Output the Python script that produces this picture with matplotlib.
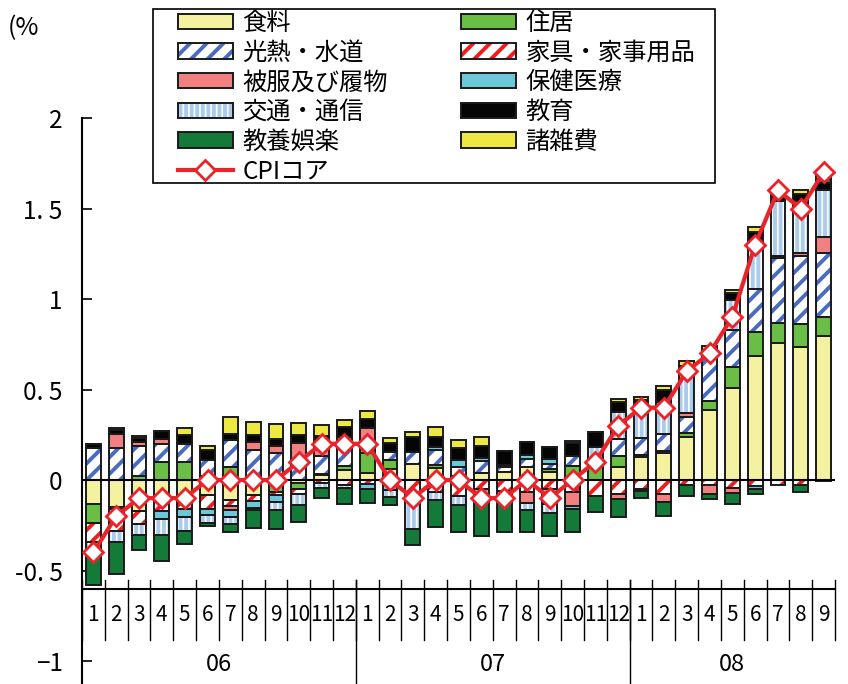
import numpy as np
import matplotlib
matplotlib.use("Agg")
import matplotlib.pyplot as plt
from matplotlib.patches import Patch, Rectangle
from matplotlib.lines import Line2D

plt.rcParams['font.family'] = ['Noto Sans CJK JP', 'DejaVu Sans']
plt.rcParams['hatch.linewidth'] = 2.8

months = [str(m) for m in range(1, 13)] * 2 + [str(m) for m in range(1, 10)]
years = ["06", "07", "08"]

food = [-0.13, -0.15, -0.17, -0.12, -0.09, -0.085, -0.11, -0.083, 0, -0.017, 0.03, 0.055,
        0.04, 0.06, 0.09, 0.066, -0.02, 0.04, 0.042, 0.074, 0.046, 0, 0, 0.07,
        0.125, 0.15, 0.236, 0.387, 0.506, 0.685, 0.755, 0.733, 0.796]
housing = [-0.11, -0.01, 0.02, 0.1, 0.1, 0.02, 0.07, 0, -0.065, -0.033, 0.005, 0.024,
           0.11, 0.05, 0, 0.018, 0.024, 0, 0, 0, 0.013, 0.08, 0.08, 0.06,
           0.015, 0.01, 0.026, 0.052, 0.116, 0.134, 0.11, 0.13, 0.103]
utility = [0.175, 0.175, 0.17, 0.1, 0.1, 0.09, 0.15, 0.165, 0.15, 0.11, 0.1, 0.13,
           0, 0.042, 0.065, 0.083, 0.05, 0.065, 0.028, 0.04, 0.028, 0.055, 0.04, 0.096,
           0.09, 0.092, 0.087, 0.25, 0.206, 0.234, 0.36, 0.372, 0.354]
furniture = [-0.1, -0.12, -0.075, -0.05, -0.07, -0.075, -0.035, -0.035, -0.02, -0.028, -0.017, -0.025,
             -0.022, -0.008, -0.07, -0.068, -0.068, -0.05, -0.06, -0.068, -0.05, -0.068, -0.087, -0.077,
             -0.05, -0.075, -0.03, -0.028, -0.046, -0.033, -0.028, -0.028, -0.005]
clothing = [0, 0.08, 0.02, 0.025, 0, 0, -0.018, 0.045, 0.037, 0.092, 0.03, 0.028,
            0.14, 0, 0, 0, 0, -0.025, 0, -0.06, -0.08, -0.074, 0, -0.03,
            -0.013, -0.045, 0.022, -0.048, -0.028, 0, 0.012, 0.017, 0.087]
medical = [0, 0, 0, -0.045, -0.045, -0.035, -0.04, -0.035, -0.037, 0, 0, 0,
           -0.028, -0.045, -0.03, 0.018, 0.037, 0.015, 0.015, 0.024, 0.03, -0.018, 0, 0,
           0, 0, 0, 0, 0, -0.018, 0, 0, 0]
transport = [-0.06, -0.06, -0.06, -0.09, -0.075, -0.04, -0.04, -0.01, -0.046, -0.06, -0.025, -0.02,
             0, -0.04, -0.17, -0.045, -0.05, -0.035, -0.05, -0.037, -0.05, 0, 0.06, 0.147,
             0.147, 0.18, 0.24, 0, 0.166, 0.263, 0.304, 0.29, 0.26]
education = [0.025, 0.02, 0.02, 0.045, 0.05, 0.055, 0.035, 0.04, 0.042, 0.046, 0.08, 0.055,
             0.046, 0.05, 0.08, 0.055, 0.065, 0.07, 0.074, 0.07, 0.068, 0.068, 0.085, 0.06,
             0.064, 0.065, 0.018, 0.028, 0.04, 0.055, 0.05, 0.037, 0.04]
recreation = [-0.18, -0.18, -0.08, -0.14, -0.075, -0.02, -0.045, -0.1, -0.1, -0.095, -0.06, -0.085,
              -0.075, -0.045, -0.09, -0.145, -0.15, -0.2, -0.18, -0.12, -0.13, -0.13, -0.092, -0.098,
              -0.035, -0.08, -0.06, -0.03, -0.06, -0.028, 0, -0.04, 0.024]
misc = [0, 0.015, 0.013, 0, 0.035, 0.022, 0.095, 0.07, 0.083, 0.065, 0.06, 0.037,
        0.046, 0.03, 0.03, 0.055, 0.046, 0.05, 0, 0, 0, 0.015, 0, 0.013,
        0.018, 0.025, 0.028, 0.025, 0.015, 0.028, 0.01, 0.022, 0.03]
cpi_core = [-0.4, -0.2, -0.1, -0.1, -0.1, 0, 0, 0, 0, 0.1, 0.2, 0.2,
            0.2, 0, -0.1, 0, 0, -0.1, -0.1, 0, -0.1, 0, 0.1, 0.3,
            0.4, 0.4, 0.6, 0.7, 0.9, 1.3, 1.6, 1.5, 1.7]

# label, values, face colour, hatch, hatch colour
series = [
    ("食料", food, "#F4F1A1", None, None),
    ("住居", housing, "#6BBE45", None, None),
    ("光熱・水道", utility, "white", "//", "#4A6CC0"),
    ("家具・家事用品", furniture, "white", "//", "#EE1C1C"),
    ("被服及び履物", clothing, "#F28080", None, None),
    ("保健医療", medical, "#6CC8D8", None, None),
    ("交通・通信", transport, "white", "|||", "#AACBEC"),
    ("教育", education, "#050505", None, None),
    ("教養娯楽", recreation, "#147A3A", None, None),
    ("諸雑費", misc, "#EEE842", None, None),
]

x = np.arange(len(months))
w = 0.65
edge = "#1a1a1a"

fig = plt.figure(figsize=(8.48, 6.84), dpi=100)
ax = fig.add_axes([82 / 848, 0, 753 / 848, 566 / 684])

pos_bottom = np.zeros(len(x))
neg_bottom = np.zeros(len(x))
handles = {}
for label, vals, fc, hatch, hc in series:
    v = np.array(vals, dtype=float)
    b = np.where(v >= 0, pos_bottom, neg_bottom)
    if hatch:
        # hatch drawn in its own colour, black outline on top
        ax.bar(x, v, w, bottom=b, color=fc, edgecolor=hc, hatch=hatch, linewidth=0, zorder=2)
        ax.bar(x, v, w, bottom=b, color="none", edgecolor=edge, linewidth=1.4, zorder=3)
        h = (Patch(facecolor=fc, edgecolor=hc, hatch=hatch, linewidth=0),
             Patch(facecolor="none", edgecolor=edge, linewidth=1.4))
    else:
        ax.bar(x, v, w, bottom=b, color=fc, edgecolor=edge, linewidth=1.4, zorder=3)
        h = Patch(facecolor=fc, edgecolor=edge, linewidth=1.4)
    handles[label] = h
    pos_bottom += np.where(v > 0, v, 0)
    neg_bottom += np.where(v < 0, v, 0)

ax.plot(x, cpi_core, color="#E8232A", lw=3, marker="D", ms=10,
        mfc="white", mec="#E8232A", mew=2, zorder=6)

ax.axhline(0, color="black", lw=1.5, zorder=4)
ax.axhline(-0.6, color="black", lw=1.5, zorder=4)

# category axis separators and labels
for i in range(len(x) + 1):
    ax.plot([i - 0.5, i - 0.5], [-0.555, -0.885], color="black", lw=1, clip_on=False)
for b in [11.5, 23.5]:
    ax.plot([b, b], [-0.555, -1.13], color="black", lw=1, clip_on=False)
for i, m in enumerate(months):
    ax.text(i, -0.745, m, ha="center", va="center", fontsize=15)
for xc, yl in zip([5.5, 17.5, 28], years):
    ax.text(xc, -1.02, yl, ha="center", va="center", fontsize=17)

ax.set_xlim(-0.5, 32.5)
ax.set_ylim(-1.127, 2.0)
ax.set_yticks([-1, -0.5, 0, 0.5, 1, 1.5, 2])
ax.set_yticklabels(["−1", "-0. 5", "0", "0. 5", "1", "1. 5", "2"], fontsize=17.5)
ax.tick_params(axis="y", direction="in", length=7, width=1.2, pad=14)
ax.set_xticks([])
for s in ["top", "right", "bottom"]:
    ax.spines[s].set_visible(False)
ax.spines["left"].set_linewidth(1.5)

fig.text(8 / 848, 1 - 28 / 684, "(%", fontsize=18, va="center", ha="left")

order = ["食料", "光熱・水道", "被服及び履物", "交通・通信", "教養娯楽", None,
         "住居", "家具・家事用品", "保健医療", "教育", "諸雑費"]
hl, ll = [], []
for k in order:
    if k is None:
        hl.append(Line2D([], [], color="#E8232A", lw=3, marker="D", ms=10,
                         mfc="white", mec="#E8232A", mew=2))
        ll.append("CPIコア")
    else:
        hl.append(handles[k])
        ll.append(k)

fig.patches.append(Rectangle((153 / 848, 1 - 183 / 684), 562 / 848, 174 / 684,
                             transform=fig.transFigure, fill=True, facecolor="white",
                             edgecolor="black", linewidth=1.2, zorder=0))
fig.legend(hl, ll, loc="upper left", bbox_to_anchor=(178 / 848, 1 - 10 / 684),
           ncol=2, fontsize=17.5, frameon=False, borderpad=0, borderaxespad=0,
           handlelength=2.25, handleheight=0.6, handletextpad=0.4,
           columnspacing=3.0, labelspacing=0.15)

fig.savefig("out.png", dpi=100)
